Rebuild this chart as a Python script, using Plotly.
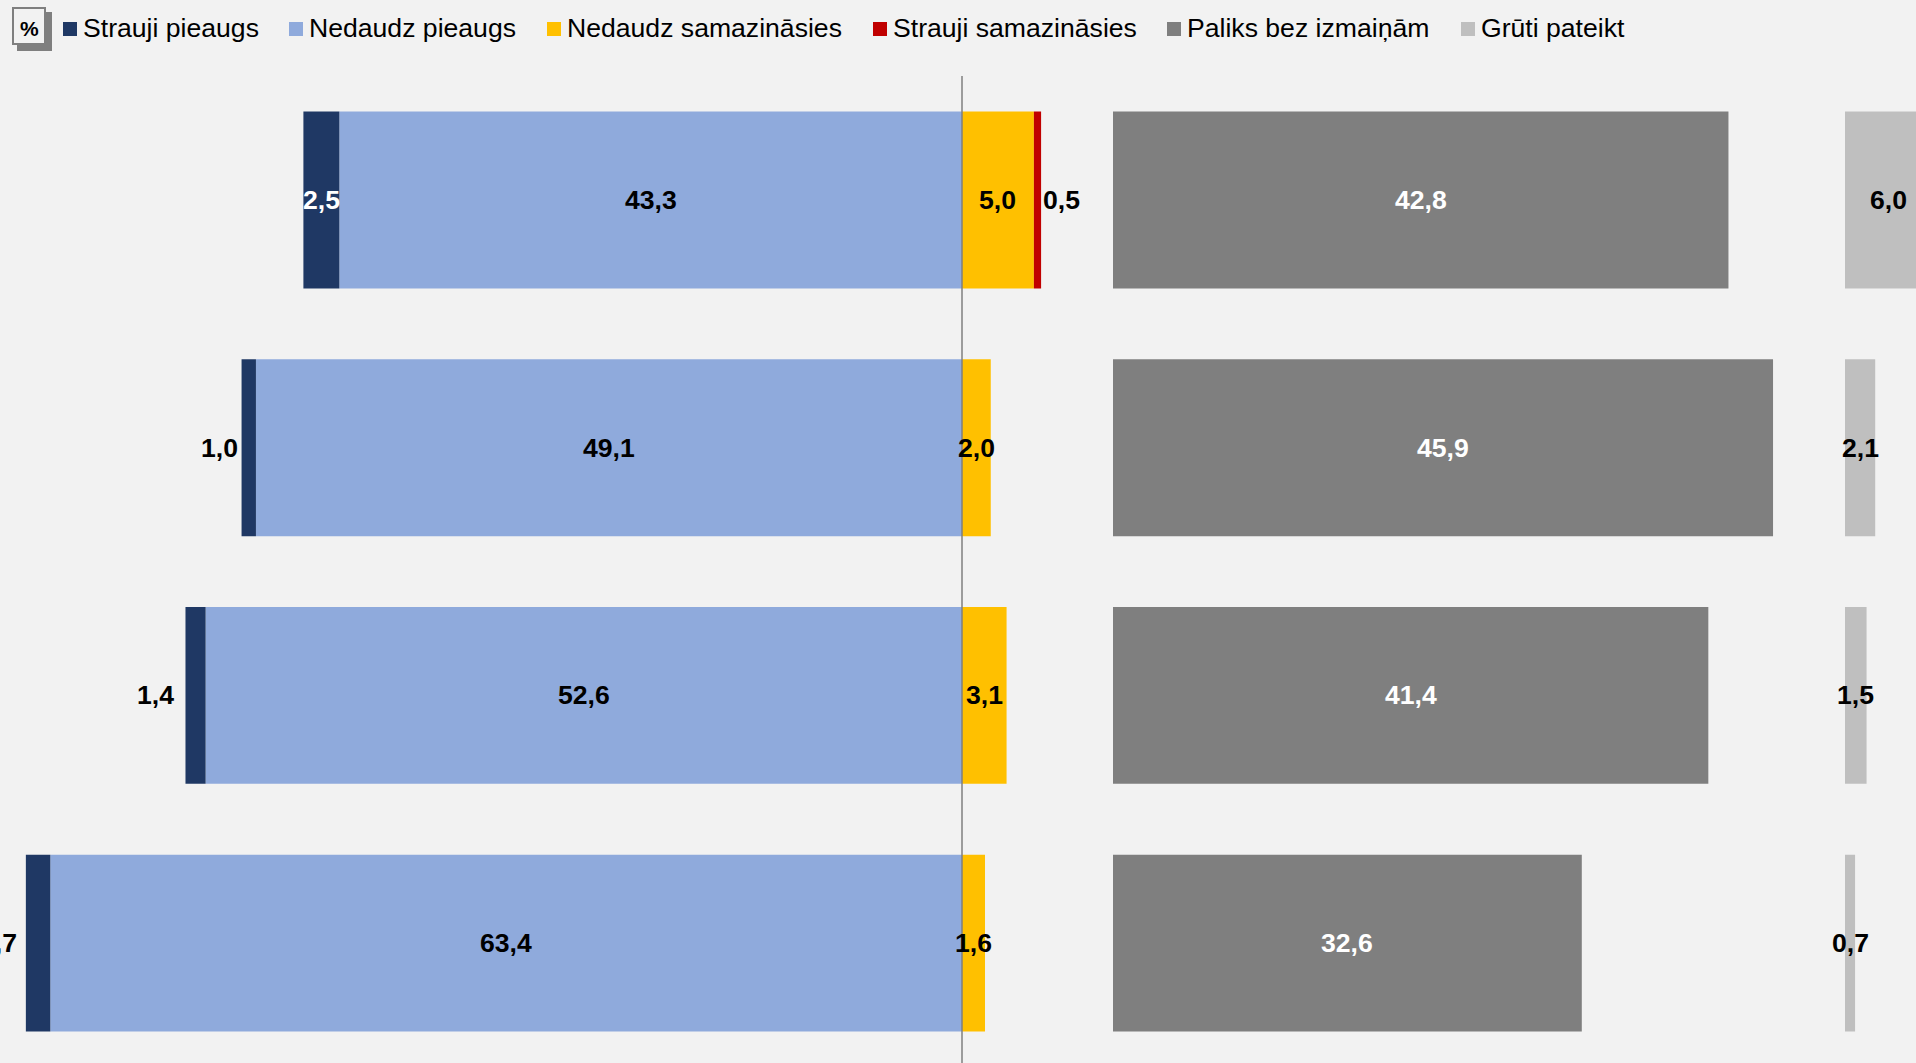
import plotly.graph_objects as go

W, H = 1916, 1063
rows = [0, 1, 2, 3]
strauji_pieaugs = [2.5, 1.0, 1.4, 1.7]
nedaudz_pieaugs = [43.3, 49.1, 52.6, 63.4]
nedaudz_samaz = [5.0, 2.0, 3.1, 1.6]
strauji_samaz = [0.5, None, None, None]
paliks = [42.8, 45.9, 41.4, 32.6]
gruti = [6.0, 2.1, 1.5, 0.7]

legend_names = ["Strauji pieaugs", "Nedaudz pieaugs", "Nedaudz samazināsies",
                "Strauji samazināsies", "Paliks bez izmaiņām", "Grūti pateikt"]
colors = ["#1F3864", "#8FAADC", "#FFC000", "#C00000", "#7F7F7F", "#BFBFBF"]
legend_x = [63, 289, 547, 873, 1167, 1461]

BG = "#F2F2F2"
FONT = "Liberation Sans, Arial, sans-serif"
FS = 26.6
SCALE = 14.38          # px per percentage point
ZERO_PX = 962
P2_PX = 1113
P3_PX = 1845
ROW0_PX = 200
ROW_STEP = 247.7
outer_shift = [0, -2, -9, -7]


def lab(v):
    return f"{v:.1f}".replace(".", ",")


fig = go.Figure()


def bar(vals, color, name, axis, sign=1):
    fig.add_trace(go.Bar(
        x=[None if v is None else sign * v for v in vals], y=rows, orientation="h",
        marker=dict(color=color, line=dict(width=0)), name=name, xaxis=axis, yaxis="y",
        showlegend=False, hoverinfo="x+name"))


bar(nedaudz_pieaugs, colors[1], legend_names[1], "x", -1)
bar(strauji_pieaugs, colors[0], legend_names[0], "x", -1)
bar(nedaudz_samaz, colors[2], legend_names[2], "x")
bar(strauji_samaz, colors[3], legend_names[3], "x")
bar(paliks, colors[4], legend_names[4], "x2")
bar(gruti, colors[5], legend_names[5], "x3")

ann = []


def label(x, y, v, axis="x", color="#000000", anchor="center", shift=0):
    ann.append(dict(x=x, y=y, xref=axis, yref="y", text=f"<b>{lab(v)}</b>", showarrow=False,
                    xanchor=anchor, yanchor="middle", xshift=shift,
                    font=dict(family=FONT, size=FS, color=color)))


for i in rows:
    sp, np_, ns, ss = strauji_pieaugs[i], nedaudz_pieaugs[i], nedaudz_samaz[i], strauji_samaz[i]
    label(-np_ / 2, i, np_)
    if i == 0:
        label(-np_ - sp / 2, i, sp, color="#FFFFFF")
    else:
        label(-np_ - sp, i, sp, anchor="right", shift=outer_shift[i])
    label(ns / 2, i, ns)
    if ss is not None:
        label(ns + ss, i, ss, anchor="left", shift=0)
    label(paliks[i] / 2, i, paliks[i], axis="x2", color="#FFFFFF")
    label(gruti[i] / 2, i, gruti[i], axis="x3")

shapes = [dict(type="line", xref="x", yref="paper", x0=0, x1=0, y0=0, y1=1 - 76 / H,
               line=dict(color="#7F7F7F", width=1.5), layer="above")]


def px_rect(x0, y0, x1, y1, fill, line=None):
    shapes.append(dict(type="rect", xref="paper", yref="paper",
                       x0=x0 / W, x1=x1 / W, y0=1 - y0 / H, y1=1 - y1 / H,
                       fillcolor=fill, line=dict(color=line or fill, width=2 if line else 0),
                       layer="above"))


# "%" badge
px_rect(17, 12, 52, 51, "#7F7F7F")
px_rect(13, 8, 45, 44, BG, "#7F7F7F")
ann.append(dict(x=29 / W, y=1 - 29 / H, xref="paper", yref="paper", text="<b>%</b>", showarrow=False,
                xanchor="center", yanchor="middle", font=dict(family=FONT, size=21, color="#000000")))

# legend row
for name, color, lx in zip(legend_names, colors, legend_x):
    px_rect(lx, 22, lx + 14, 36, color)
    ann.append(dict(x=(lx + 17.5) / W, y=1 - 28 / H, xref="paper", yref="paper", text=name, showarrow=False,
                    xanchor="left", yanchor="middle", font=dict(family=FONT, size=FS, color="#000000")))

hidden = dict(showgrid=False, zeroline=False, showticklabels=False, ticks="", showline=False, fixedrange=True)

fig.update_layout(
    width=W, height=H, margin=dict(l=0, r=0, t=0, b=0), autosize=False,
    paper_bgcolor=BG, plot_bgcolor=BG, barmode="relative", bargap=0.286, showlegend=False,
    font=dict(family=FONT),
    xaxis=dict(domain=[0, P2_PX / W - 0.005], range=[-ZERO_PX / SCALE, (P2_PX - 0.005 * W - ZERO_PX) / SCALE], anchor="y", **hidden),
    xaxis2=dict(domain=[P2_PX / W, (P3_PX - 10) / W], range=[0, (P3_PX - 10 - P2_PX) / SCALE], anchor="y", **hidden),
    xaxis3=dict(domain=[P3_PX / W, 1], range=[0, (W - P3_PX) / SCALE], anchor="y", **hidden),
    yaxis=dict(range=[(H - ROW0_PX) / ROW_STEP, -ROW0_PX / ROW_STEP], **hidden),
    annotations=ann, shapes=shapes,
)
fig.write_html("out.html", config={"displayModeBar": False},
               post_script="document.documentElement.style.background='#F2F2F2';document.body.style.margin='0';document.body.style.overflow='hidden';")
